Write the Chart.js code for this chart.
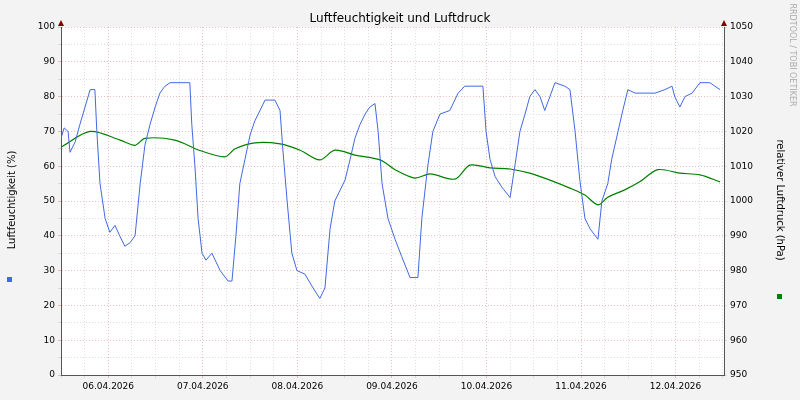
<!DOCTYPE html>
<html>
<head>
<meta charset="utf-8">
<script src="https://cdn.jsdelivr.net/npm/chart.js@4"></script>
<style>
  body { margin: 0; background: #f3f3f3; }
  canvas { display: block; }
</style>
</head>
<body>
<canvas id="chart" width="800" height="400"></canvas>
<script>
// hours since 05.04.2026 12:00
const startDay = 5;
const humHours = [0,0.8,1.8,2.3,3.6,4.8,6.1,7.4,8.6,9.1,9.9,11.2,12.4,13.7,14.9,16.2,17.5,18.8,20.1,21.3,22.6,23.9,25.1,26.4,27.7,31.5,32.7,33.2,34,34.8,35.8,36.8,38.3,40.4,42.4,43.4,44.4,45.4,46.7,48,49.2,50.5,51.8,54.3,55.6,56.3,57.4,58.6,59.9,61.9,64,65.7,67,68.3,69.5,70.8,72.1,73.4,74.6,75.9,77.2,78.4,79.7,80.5,81.5,83,84.8,86.5,88.6,90.6,91.6,93.1,94.4,96.2,98.7,100.8,102.5,107.1,107.9,108.9,110.2,111.9,114,115.2,116.5,117.8,119,120.3,121.6,122.8,124.1,125.4,127.9,129.2,130.5,131.7,133,134.3,136.3,137.3,138.8,139.8,141.4,142.6,143.9,145.7,148.2,150.8,153.3,155.1,155.8,157.1,158.4,160.2,162.2,164.7,167.3];
const humValues = [68,71,70,64,67,72,77,82,82,70,55,45,41,43,40,37,38,40,55,66,72,77,81,83,84,84,84,72,60,45,35,33,35,30,27,27,40,55,62,69,73,76,79,79,76,65,50,35,30,29,25,22,25,42,50,53,56,62,68,72,75,77,78,70,55,45,39,34,28,28,45,60,70,75,76,81,83,83,70,62,57,54,51,60,70,75,80,82,80,76,80,84,83,82,70,56,45,42,39,50,55,62,70,76,82,81,81,81,82,83,80,77,80,81,84,84,82];
const presHours = [0,7.4,15,18.8,21.3,28.9,35.3,41.6,44.2,49.2,55.6,60.7,65.7,69.5,74.6,81,84.8,89.8,93.7,100,103.8,108.9,114,119,124.1,129.2,133,136.3,138.8,143.1,146.9,151.5,157.1,162.2,167.3];
const presValues = [1015.5,1020,1017.5,1016,1018,1017.5,1014.5,1012.7,1015,1016.7,1016.4,1014.6,1011.8,1014.6,1013.2,1011.8,1009,1006.6,1007.8,1006.3,1010.3,1009.5,1009.2,1008,1006,1003.7,1001.7,998.9,1001.1,1003.2,1005.5,1009,1008,1007.5,1005.5];

const pad2 = n => String(n).padStart(2, '0');

const plotBg = {
  id: 'plotBg',
  beforeDraw(chart) {
    const { ctx, chartArea: a } = chart;
    ctx.save();
    ctx.fillStyle = '#fff';
    ctx.fillRect(a.left, a.top, a.right - a.left, a.bottom - a.top);
    ctx.restore();
  }
};

const extras = {
  id: 'extras',
  afterDraw(chart) {
    const { ctx, chartArea: a } = chart;
    ctx.save();
    ctx.fillStyle = '#000';
    ctx.font = '12px "DejaVu Sans"';
    ctx.textAlign = 'center';
    ctx.textBaseline = 'middle';
    ctx.fillText('Luftfeuchtigkeit und Luftdruck', 400, 19);
    ctx.font = '10px "DejaVu Sans"';
    ctx.save(); ctx.translate(12, 200); ctx.rotate(-Math.PI / 2);
    ctx.fillText('Luftfeuchtigkeit (%)', 0, 0); ctx.restore();
    ctx.save(); ctx.translate(780, 200); ctx.rotate(Math.PI / 2);
    ctx.fillText('relativer Luftdruck (hPa)', 0, 0); ctx.restore();
    ctx.fillStyle = '#aaa'; ctx.font = '8px "DejaVu Sans"';
    ctx.save(); ctx.translate(792, 55); ctx.rotate(Math.PI / 2);
    ctx.fillText('RRDTOOL / TOBI OETIKER', 0, 0); ctx.restore();
    ctx.fillStyle = '#4169e1'; ctx.fillRect(7, 277, 5, 5);
    ctx.fillStyle = '#008000'; ctx.fillRect(777, 294, 5, 5);
    // axis arrows
    ctx.fillStyle = '#800000';
    const tri = (x, y) => { ctx.beginPath(); ctx.moveTo(x - 3, y + 5); ctx.lineTo(x + 3, y + 5); ctx.lineTo(x, y - 1); ctx.fill(); };
    tri(a.left, a.top - 6); tri(a.right, a.top - 6);
    ctx.restore();
  }
};

new Chart(document.getElementById('chart'), {
  type: 'line',
  data: {
    datasets: [
      { label: 'Luftfeuchtigkeit', data: humHours.map((h, i) => ({ x: h, y: humValues[i] })), borderColor: '#4169e1', borderWidth: 1, pointRadius: 0, yAxisID: 'y' },
      { label: 'Luftdruck', data: presHours.map((h, i) => ({ x: h, y: presValues[i] })), borderColor: '#008000', borderWidth: 1.2, pointRadius: 0, tension: 0.3, yAxisID: 'y2' }
    ]
  },
  plugins: [plotBg, extras],
  options: {
    responsive: false,
    animation: false,
    layout: { padding: { top: 27, right: 0 } },
    plugins: { legend: { display: false }, tooltip: { enabled: false } },
    scales: {
      x: {
        type: 'linear', min: 0, max: 168.3,
        afterBuildTicks: s => { const t = []; for (let h = 0; h <= 168; h += 6) t.push({ value: h }); s.ticks = t; },
        afterFit: s => { s.height = 25; },
        ticks: {
          autoSkip: false, maxRotation: 0, color: '#000', font: { size: 9, family: 'DejaVu Sans' },
          callback: v => (v - 12) % 24 === 0 ? pad2(startDay + (v - 12) / 24 + 1) + '.04.2026' : ''
        },
        grid: { color: c => c.tick && (c.tick.value - 12) % 24 === 0 ? 'rgba(220,150,150,0.6)' : 'rgba(200,200,200,0.6)', tickLength: 3 },
        border: { color: '#555', dash: [1, 2] }
      },
      y: {
        position: 'left', min: 0, max: 100,
        afterBuildTicks: s => { const t = []; for (let v = 0; v <= 100; v += 5) t.push({ value: v }); s.ticks = t; },
        afterFit: s => { s.width = 61; },
        ticks: { color: '#000', font: { size: 9, family: 'DejaVu Sans' }, callback: v => v % 10 === 0 ? v : '' },
        grid: { color: c => c.tick && c.tick.value % 10 === 0 ? 'rgba(220,150,150,0.6)' : 'rgba(200,200,200,0.6)', tickLength: 3 },
        border: { color: '#555', dash: [1, 2] }
      },
      y2: {
        position: 'right', min: 950, max: 1050,
        afterBuildTicks: s => { const t = []; for (let v = 950; v <= 1050; v += 10) t.push({ value: v }); s.ticks = t; },
        afterFit: s => { s.width = 76; },
        ticks: { color: '#000', font: { size: 9, family: 'DejaVu Sans' }, callback: v => String(v) },
        grid: { drawOnChartArea: false, tickLength: 3 },
        border: { color: '#555' }
      }
    }
  }
});
</script>
</body>
</html>
